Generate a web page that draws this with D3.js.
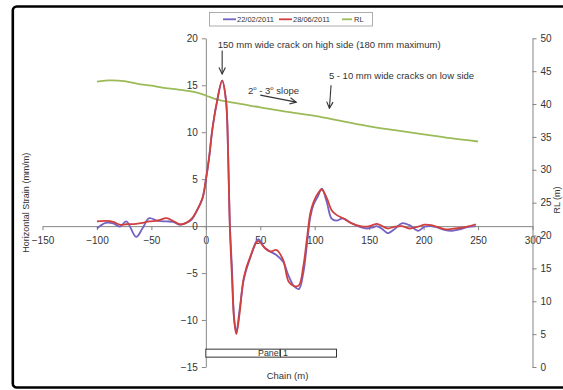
<!DOCTYPE html>
<html>
<head>
<meta charset="utf-8">
<script src="https://cdn.jsdelivr.net/npm/d3@7/dist/d3.min.js"></script>
<style>
  body { margin: 0; background: #fff; }
  svg text { font-family: "Liberation Sans", Arial, sans-serif; fill: #333; }
</style>
</head>
<body>
<div id="root"></div>
<script>
// data
const chain = [-100, -92, -85, -79, -73, -64, -58, -52, -44, -36, -30, -24, -18, -13, -8, -3,
  0, 3, 6, 10, 15, 18.5, 20.5, 22, 24, 26, 28, 31, 35, 41, 48, 54, 59, 65, 71, 76, 81, 85.5,
  89.5, 93, 96, 99, 103, 106.5, 111, 115.5, 120, 126, 134, 142, 148, 153, 157, 163, 167, 174,
  180, 187, 195, 201, 207, 213, 219, 226, 233, 240, 248];
const strainFeb = [-0.25, 0.35, 0.3, -0.05, 0.5, -1.15, -0.2, 0.85, 0.55, 0.5, 0.45, 0.15, 0.35, 0.7, 1.7, 3.0,
  4.9, 7.3, 10.3, 13.1, 15.5, 13.4, 7.5, 0.5, -4.5, -9.8, -11.3, -8.9, -5.6, -3.3, -1.4, -2.3, -2.7, -3.1, -3.8, -5.3, -6.4, -6.7,
  -5.0, -1.8, 1.0, 2.3, 3.2, 4.0, 2.6, 0.8, 0.58, 0.83, 0.3, -0.1, -0.25, -0.15, 0.0, -0.4, -0.75, -0.25,
  0.3, 0.1, -0.5, -0.05, 0.0, -0.15, -0.4, -0.5, -0.35, -0.1, 0.0];
const strainJun = [0.5, 0.55, 0.45, 0.15, 0.2, 0.25, 0.35, 0.5, 0.6, 0.85, 0.55, 0.2, 0.35, 0.8, 1.7, 3.0,
  4.9, 7.3, 10.3, 13.1, 15.5, 13.4, 7.5, 0, -5.4, -10, -11.5, -9.3, -5.4, -3.2, -1.6, -2.3, -2.7, -2.55, -3.6, -5.9, -6.4, -6.3,
  -4.3, -1.2, 1.4, 2.6, 3.5, 3.9, 3.0, 1.7, 1.2, 0.83, 0.3, 0, -0.05, 0.1, 0.25, -0.05, -0.25, -0.05,
  0.0, -0.25, -0.05, 0.15, 0.1, -0.1, -0.33, -0.3, -0.2, -0.05, 0.2];

const rlChain = [-100, -90, -75, -60, -50, -40, -25, -10, 0, 10, 25, 50, 75, 100, 125, 150, 175, 200, 225, 250];
const rlValues = [43.4, 43.6, 43.5, 43.0, 42.8, 42.5, 42.2, 41.8, 41.3, 40.7, 40.2, 39.5, 38.8, 38.2, 37.4, 36.6, 36.0, 35.4, 34.8, 34.3];

const xTicks = [-150, -100, -50, 0, 50, 100, 150, 200, 250, 300];
const strainTicks = [-15, -10, -5, 0, 5, 10, 15, 20];
const rlTicks = [0, 5, 10, 15, 20, 25, 30, 35, 40, 45, 50];

const seriesNames = ["22/02/2011", "28/06/2011", "RL"];
const colors = ["#7463c2", "#d0403f", "#9bbb59"];

const width = 563, height = 390;

const svg = d3.select("#root").append("svg")
  .attr("width", width)
  .attr("height", height);

// defs: open arrow head
svg.append("defs").append("marker")
  .attr("id", "arrow")
  .attr("viewBox", "0 0 10 10")
  .attr("refX", 9).attr("refY", 5)
  .attr("markerWidth", 8).attr("markerHeight", 8)
  .attr("markerUnits", "userSpaceOnUse")
  .attr("orient", "auto")
  .append("path")
  .attr("d", "M1,1 L9,5 L1,9")
  .attr("fill", "none")
  .attr("stroke", "#333")
  .attr("stroke-width", 1.4);

// chart frame
svg.append("rect")
  .attr("x", 12.8).attr("y", 6.5)
  .attr("width", 600).attr("height", 381)
  .attr("rx", 4)
  .attr("fill", "none")
  .attr("stroke", "#000")
  .attr("stroke-width", 2.6);

const x = d3.scaleLinear().domain([-150, 300]).range([42.5, 532.5]);
const yL = d3.scaleLinear().domain([-15, 20]).range([367, 38.3]);
const yR = d3.scaleLinear().domain([0, 50]).range([367, 38.3]);

// axes
function styleAxis(g) {
  g.selectAll("path, line").attr("stroke", "#868686");
  g.selectAll("text").attr("font-size", 10).attr("fill", "#333");
}

svg.append("g")
  .attr("transform", `translate(0,${yL(0)})`)
  .call(d3.axisBottom(x).tickValues(xTicks).tickSizeInner(4).tickSizeOuter(0).tickPadding(7))
  .call(styleAxis);

svg.append("g")
  .attr("transform", `translate(${x(0)},0)`)
  .call(d3.axisLeft(yL).tickValues(strainTicks).tickSizeInner(4).tickSizeOuter(0).tickPadding(4))
  .call(styleAxis);

svg.append("g")
  .attr("transform", `translate(${x(300)},0)`)
  .call(d3.axisRight(yR).tickValues(rlTicks).tickSizeInner(4).tickSizeOuter(0).tickPadding(4))
  .call(styleAxis);

svg.selectAll(".domain").attr("stroke", "#868686");

// axis titles
svg.append("text")
  .attr("transform", `translate(29,${(yL.range()[0] + yL.range()[1]) / 2}) rotate(-90)`)
  .attr("text-anchor", "middle")
  .attr("font-size", 9)
  .text("Horizontal Strain (mm/m)");

svg.append("text")
  .attr("transform", `translate(560,200) rotate(-90)`)
  .attr("text-anchor", "middle")
  .attr("font-size", 9)
  .text("RL (m)");

svg.append("text")
  .attr("x", (x.range()[0] + x.range()[1]) / 2)
  .attr("y", 379)
  .attr("text-anchor", "middle")
  .attr("font-size", 9.5)
  .text("Chain (m)");

// lines
const smooth = d3.curveCatmullRom.alpha(0.5);

svg.append("path")
  .datum(rlChain.map((c, i) => [c, rlValues[i]]))
  .attr("fill", "none")
  .attr("stroke", colors[2])
  .attr("stroke-width", 1.8)
  .attr("d", d3.line().x(d => x(d[0])).y(d => yR(d[1])).curve(smooth));

[strainFeb, strainJun].forEach((vals, k) => {
  svg.append("path")
    .datum(chain.map((c, i) => [c, vals[i]]))
    .attr("fill", "none")
    .attr("stroke", colors[k])
    .attr("stroke-width", 1.8)
    .attr("d", d3.line().x(d => x(d[0])).y(d => yL(d[1])).curve(smooth));
});

// Panel 1 box
const panel = svg.append("g");
panel.append("rect")
  .attr("x", x(0)).attr("y", yL(-13.1))
  .attr("width", x(120) - x(0))
  .attr("height", yL(-13.95) - yL(-13.1))
  .attr("fill", "#fff")
  .attr("stroke", "#333")
  .attr("stroke-width", 1);
panel.append("line")
  .attr("x1", x(68.5)).attr("x2", x(68.5))
  .attr("y1", yL(-13.1)).attr("y2", yL(-13.95))
  .attr("stroke", "#333");
panel.append("text")
  .attr("x", x(48)).attr("y", yL(-13.85))
  .attr("font-size", 8.8)
  .text("Panel 1");

// annotations
const ann = svg.append("g").attr("font-size", 9.5);
ann.append("text").attr("x", x(11)).attr("y", yL(18.95))
  .text("150 mm wide crack on high side (180 mm maximum)");
ann.append("text").attr("x", x(113)).attr("y", yL(15.7))
  .text("5 - 10 mm wide cracks on low side");
const slope = ann.append("text").attr("x", x(38.7)).attr("y", yL(14.1));
slope.append("tspan").text("2");
slope.append("tspan").attr("font-size", 6).attr("dy", -4).text("o");
slope.append("tspan").attr("dy", 4).text(" - 3");
slope.append("tspan").attr("font-size", 6).attr("dy", -4).text("o");
slope.append("tspan").attr("dy", 4).text(" slope");

const arrows = [
  [15, 18.7, 15, 16.2],
  [50, 13.95, 83, 13.2],
  [115, 15.0, 113.5, 12.55]
];
svg.append("g").selectAll("line").data(arrows).enter().append("line")
  .attr("x1", d => x(d[0])).attr("y1", d => yL(d[1]))
  .attr("x2", d => x(d[2])).attr("y2", d => yL(d[3]))
  .attr("stroke", "#333")
  .attr("stroke-width", 1.1)
  .attr("marker-end", "url(#arrow)");

// legend
const legend = svg.append("g");
legend.append("rect")
  .attr("x", 209.5).attr("y", 12.5)
  .attr("width", 163).attr("height", 13.5)
  .attr("fill", "#fff")
  .attr("stroke", "#999")
  .attr("stroke-width", 0.8);
const legendX = [223, 279, 342];
seriesNames.forEach((name, i) => {
  legend.append("line")
    .attr("x1", legendX[i]).attr("x2", legendX[i] + (i === 2 ? 10 : 13))
    .attr("y1", 19.3).attr("y2", 19.3)
    .attr("stroke", colors[i]).attr("stroke-width", 1.8);
  legend.append("text")
    .attr("x", legendX[i] + (i === 2 ? 12 : 14))
    .attr("y", 22)
    .attr("font-size", 7.5)
    .text(name);
});
</script>
</body>
</html>
